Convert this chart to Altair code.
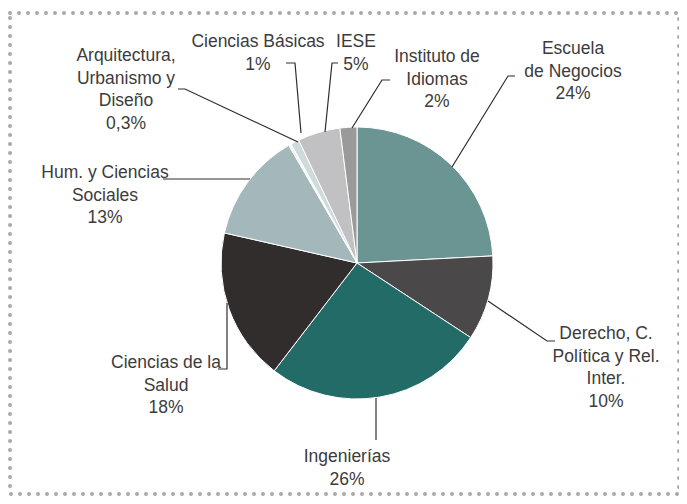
import altair as alt
import pandas as pd

# ---- data ----
names = ["Escuela de Negocios", "Derecho, C. Política y Rel. Inter.", "Ingenierías",
         "Ciencias de la Salud", "Hum. y Ciencias Sociales",
         "Arquitectura, Urbanismo y Diseño", "Ciencias Básicas", "IESE",
         "Instituto de Idiomas"]
values = [24, 10, 26, 18, 13, 0.3, 1, 5, 2]
pct_labels = ["24%", "10%", "26%", "18%", "13%", "0,3%", "1%", "5%", "2%"]
label_lines = [["Escuela", "de Negocios"], ["Derecho, C.", "Política y Rel.", "Inter."],
               ["Ingenierías"], ["Ciencias de la", "Salud"], ["Hum. y Ciencias", "Sociales"],
               ["Arquitectura,", "Urbanismo y", "Diseño"], ["Ciencias Básicas"], ["IESE"],
               ["Instituto de", "Idiomas"]]
colors = ["#6a9593", "#4b4849", "#226b67", "#312d2c", "#a4b8bc",
          "#f4f6f6", "#cfdadb", "#c1c1c3", "#9a9a9a"]

# ---- layout (page pixel coordinates; label y = centre of first line) ----
W, H = 671, 488
OFF = 8
PIE_CX, PIE_CY, PIE_R = 357, 263, 136
label_pos = [(573, 49), (606, 334), (347, 457), (166, 363), (105, 173),
             (126, 56), (258, 42), (356, 42), (437, 57)]
leaders = [
    [(452, 167), (508, 76), (515, 76)],
    [(488, 301), (547, 341), (555, 341)],
    [(376, 398), (376, 440)],
    [(227, 303), (227, 369), (218, 369)],
    [(250, 179), (163, 179)],
    [(298, 142), (185, 89), (178, 89)],
    [(301, 133), (295, 63), (286, 63)],
    [(325, 132), (332, 63), (338, 63)],
    [(352, 128), (382, 80), (390, 80)],
]

pie_df = pd.DataFrame({"name": names, "value": values, "idx": list(range(len(names)))})

lab_df = pd.DataFrame({
    "name": names,
    "text": ["\n".join(l + [p]) for l, p in zip(label_lines, pct_labels)],
    "lx": [p[0] - OFF for p in label_pos],
    "ly": [p[1] - OFF for p in label_pos],
})

rows = []
for n, path in zip(names, leaders):
    for k, (px, py) in enumerate(path):
        rows.append({"name": n, "k": k, "px": px - OFF, "py": py - OFF})
lead_df = pd.DataFrame(rows)

xs = alt.Scale(domain=[0, W], range=[0, W])
ys = alt.Scale(domain=[0, H], range=[0, H])

pie = alt.Chart(pie_df).mark_arc(radius=PIE_R, stroke="white", strokeWidth=1).encode(
    theta=alt.Theta("value:Q", stack=True),
    color=alt.Color("name:N", scale=alt.Scale(domain=names, range=colors), legend=None),
    order=alt.Order("idx:Q"),
    x=alt.value(PIE_CX - OFF),
    y=alt.value(PIE_CY - OFF),
)

lines = alt.Chart(lead_df).mark_line(color="#2e2e2e", strokeWidth=1.2).encode(
    x=alt.X("px:Q", scale=xs, axis=None),
    y=alt.Y("py:Q", scale=ys, axis=None),
    detail="name:N",
    order="k:Q",
)

labels = alt.Chart(lab_df).mark_text(
    lineBreak="\n", align="center", baseline="middle", lineHeight=22.5,
    font="Liberation Sans", fontSize=17.5, color="#3c3c3c",
).encode(
    x=alt.X("lx:Q", scale=xs, axis=None),
    y=alt.Y("ly:Q", scale=ys, axis=None),
    text="text:N",
)

border = alt.Chart(pd.DataFrame({"a": [1]})).mark_rect(
    fillOpacity=0, stroke="#a8a8a8", strokeWidth=4, strokeDash=[0, 9], strokeCap="round",
).encode(
    x=alt.value(10 - OFF), x2=alt.value(679 - OFF),
    y=alt.value(13 - OFF), y2=alt.value(494 - OFF),
)

chart = alt.layer(border, pie, lines, labels).properties(
    width=W, height=H, autosize=alt.AutoSizeParams(type="none"), padding=0,
).configure_view(stroke=None)

chart.save("out.html", embed_options={"renderer": "svg", "actions": False})
